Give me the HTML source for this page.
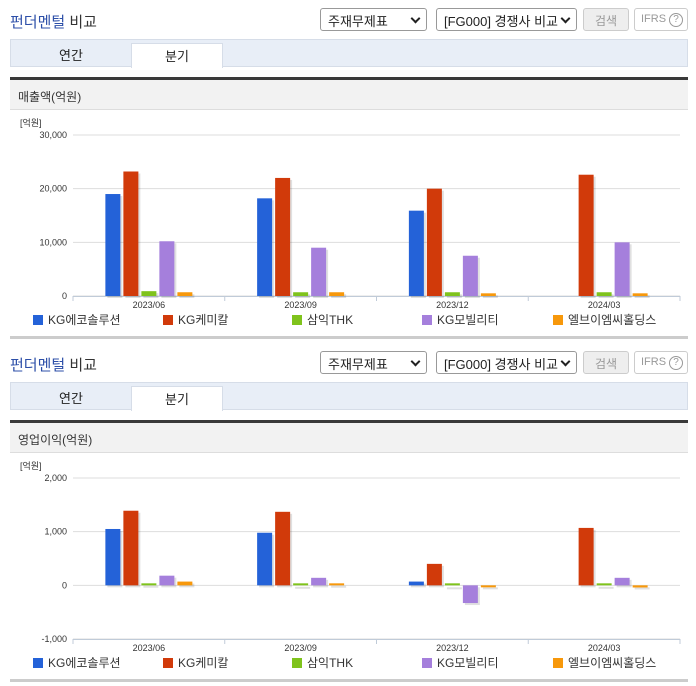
<!DOCTYPE html>
<html><head><meta charset="utf-8">
<style>
*{margin:0;padding:0;box-sizing:border-box}
body{width:696px;height:684px;background:#fff;font-family:"Liberation Sans","Noto Sans CJK KR",sans-serif;position:relative;overflow:hidden}
.sec{position:absolute;left:0;width:696px;height:343px}
.title{position:absolute;left:10px;top:11px;font-size:15px;font-weight:normal;color:#333}
.title b{color:#2d4fa8;font-weight:normal}
.sel{position:absolute;top:8px;height:23px;border:1px solid #999;border-radius:3px;background:#fff;font-size:13px;color:#222;padding:2px 0 0 7px}
.sel:after{content:"";position:absolute;right:7px;top:6px;width:5px;height:5px;border-right:2px solid #222;border-bottom:2px solid #222;transform:rotate(45deg)}
.btn{position:absolute;top:8px;height:23px;border:1px solid #ccc;border-radius:3px;background:#eee;font-size:12px;color:#999;text-align:center;padding-top:3px}
.ifrs{position:absolute;top:8px;left:634px;width:54px;height:23px;border:1px solid #ccc;border-radius:3px;font-size:11px;color:#999;padding:4px 0 0 6px}
.ifrs span{display:inline-block;width:14px;height:14px;border:1px solid #999;border-radius:50%;font-size:10px;text-align:center;line-height:12px;margin-left:3px}
.tabs{position:absolute;left:10px;top:39px;width:678px;height:28px;background:#e8eef7;border:1px solid #d6dde8}
.tab{position:absolute;top:0;height:28px;font-size:13px;color:#222;text-align:center;padding-top:5px}
.tab.on{background:#fff;border:1px solid #d6dde8;border-bottom:none;top:3px;height:25px;padding-top:2px}
.dark{position:absolute;left:10px;top:77px;width:678px;height:3px;background:#3a3a3a}
.hdr{position:absolute;left:10px;top:80px;width:678px;height:30px;background:#f2f2f2;border-bottom:1px solid #ddd;font-size:12px;color:#333;padding:8px 0 0 8px}
.bot{position:absolute;left:10px;top:336px;width:678px;height:3px;background:#ccc}
svg{position:absolute;left:0;top:110px}
</style></head><body>

<div class="sec" style="top:0">
 <div class="title"><b>펀더멘털</b> 비교</div>
 <div class="sel" style="left:320px;width:107px">주재무제표</div>
 <div class="sel" style="left:436px;width:141px">[FG000] 경쟁사 비교</div>
 <div class="btn" style="left:583px;width:46px">검색</div>
 <div class="ifrs">IFRS<span>?</span></div>
 <div class="tabs">
  <div class="tab" style="left:0;width:120px">연간</div>
  <div class="tab on" style="left:120px;width:92px">분기</div>
 </div>
 <div class="dark"></div>
 <div class="hdr">매출액(억원)</div>
 <svg id="c1" width="696" height="227"></svg>
 <div class="bot"></div>
</div>

<div class="sec" style="top:343px">
 <div class="title"><b>펀더멘털</b> 비교</div>
 <div class="sel" style="left:320px;width:107px">주재무제표</div>
 <div class="sel" style="left:436px;width:141px">[FG000] 경쟁사 비교</div>
 <div class="btn" style="left:583px;width:46px">검색</div>
 <div class="ifrs">IFRS<span>?</span></div>
 <div class="tabs">
  <div class="tab" style="left:0;width:120px">연간</div>
  <div class="tab on" style="left:120px;width:92px">분기</div>
 </div>
 <div class="dark"></div>
 <div class="hdr">영업이익(억원)</div>
 <svg id="c2" width="696" height="227"></svg>
 <div class="bot"></div>
</div>

<script>
const categories=["2023/06","2023/09","2023/12","2024/03"];
const seriesNames=["KG에코솔루션","KG케미칼","삼익THK","KG모빌리티","엘브이엠씨홀딩스"];
const colors=["#2462d8","#d13a0a","#7fc31c","#a57fdc","#f7980b"];
const rev1=[19000,18200,15900,null];
const rev2=[23200,22000,20000,22600];
const rev3=[900,700,700,700];
const rev4=[10200,9000,7500,10000];
const rev5=[700,700,500,500];
const revTicks=[0,10000,20000,30000];
const revTickLabels=["0","10,000","20,000","30,000"];
const op1=[1050,980,70,null];
const op2=[1390,1370,400,1070];
const op3=[30,10,0,10];
const op4=[180,140,-330,140];
const op5=[70,30,-30,-40];
const opTicks=[-1000,0,1000,2000];
const opTickLabels=["-1,000","0","1,000","2,000"];
const NS="http://www.w3.org/2000/svg";
function mk(svg,tag,attrs,txt){const e=document.createElementNS(NS,tag);for(const k in attrs)e.setAttribute(k,attrs[k]);if(txt!=null)e.textContent=txt;svg.appendChild(e);return e;}
function draw(id,series,ticks,labels,min,max){
 const svg=document.getElementById(id);
 const x0=73,x1=680,top=25,bot=186;
 const y=v=>bot-(v-min)/(max-min)*(bot-top);
 const bw=(x1-x0)/categories.length;
 const cx=i=>x0+bw*(i+0.5);
 let t=mk(svg,'text',{x:20,y:16,'font-size':9,fill:'#333'},'[억원]');
 
 
 ticks.forEach((v,i)=>{
  let g=mk(svg,'line',{x1:x0,x2:x1,y1:y(v),y2:y(v),stroke:'#ddd','stroke-width':1});
  
  
  let l=mk(svg,'text',{x:67,y:y(v)+3,'font-size':9,fill:'#333','text-anchor':'end'},labels[i]);
  
  
 });
 let ax=mk(svg,'line',{x1:x0,x2:x1,y1:bot+0.5,y2:bot+0.5,stroke:'#c0cbd8','stroke-width':1});
 
 
 for(let i=0;i<=categories.length;i++){mk(svg,'line',{x1:x0+bw*i,x2:x0+bw*i,y1:bot,y2:bot+5,stroke:'#c0cbd8'});}
 categories.forEach((c,i)=>{
  let l=mk(svg,'text',{x:cx(i),y:bot+12,'font-size':9,fill:'#333','text-anchor':'middle'},c);
  
  
  series.forEach((s,j)=>{
   const v=s[i]; if(v==null) return;
   const bx=cx(i)-43.5+j*18;
   const ya=y(Math.max(v,0)), yb=y(Math.min(v,0));
   const h=Math.max(yb-ya,2);
   mk(svg,'rect',{x:bx+2,y:ya+2,width:15,height:h,fill:'#000',opacity:0.12});
   let r=mk(svg,'rect',{x:bx,y:v<0?y(0):Math.min(ya,y(0)-2),width:15,height:h,fill:colors[j]});
   
   
  });
 });
 const lx=[33,163,292,422,553];
 seriesNames.forEach((n,j)=>{
  let s=mk(svg,'rect',{x:lx[j],y:205,width:10,height:10,fill:colors[j]});
  
  
  let t=mk(svg,'text',{x:lx[j]+15,y:214,'font-size':12,fill:'#333'},n);
  
  
 });
}
draw('c1',[rev1,rev2,rev3,rev4,rev5],revTicks,revTickLabels,0,30000);
draw('c2',[op1,op2,op3,op4,op5],opTicks,opTickLabels,-1000,2000);
</script>
</body></html>
